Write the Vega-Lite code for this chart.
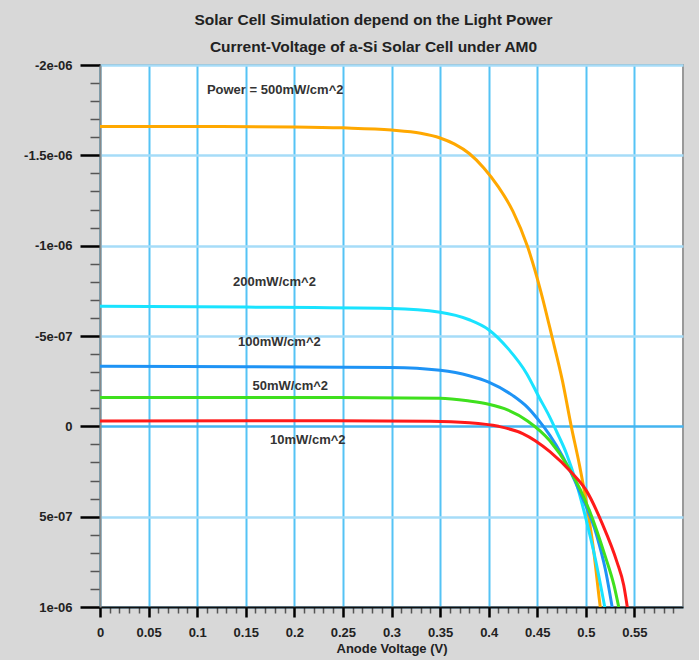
{
  "$schema": "https://vega.github.io/schema/vega-lite/v6.json",
  "width": 583,
  "height": 542,
  "autosize": {"type": "none"},
  "padding": {"left": 100, "top": 65, "right": 16, "bottom": 53},
  "background": "#d8d8d8",
  "title": {
    "text": ["Solar Cell Simulation depend on the Light Power", "Current-Voltage of a-Si Solar Cell under AM0"],
    "font": "Liberation Sans",
    "fontSize": 15.5,
    "fontWeight": "bold",
    "color": "#222222",
    "lineHeight": 27,
    "anchor": "middle",
    "frame": "group",
    "dx": -18,
    "offset": 4
  },
  "config": {
    "view": {"fill": "white", "stroke": "#999999", "strokeWidth": 2},
    "axis": {
      "labelFont": "Liberation Sans",
      "labelFontWeight": "bold",
      "labelFontSize": 13,
      "labelColor": "#222222",
      "titleFont": "Liberation Sans",
      "titleFontWeight": "bold",
      "titleFontSize": 13,
      "titleColor": "#222222",
      "labelOverlap": false,
      "labelBound": false,
      "labelFlush": false,
      "tickCount": 200
    }
  },
  "datasets": {
    "curves": [
      {"series": "500", "V": 0, "I": -1.66e-6},
      {"series": "500", "V": 0.1, "I": -1.66e-6},
      {"series": "500", "V": 0.2, "I": -1.657e-6},
      {"series": "500", "V": 0.25, "I": -1.652e-6},
      {"series": "500", "V": 0.3, "I": -1.64e-6},
      {"series": "500", "V": 0.33, "I": -1.622e-6},
      {"series": "500", "V": 0.35, "I": -1.596e-6},
      {"series": "500", "V": 0.365, "I": -1.562e-6},
      {"series": "500", "V": 0.38, "I": -1.51e-6},
      {"series": "500", "V": 0.395, "I": -1.43e-6},
      {"series": "500", "V": 0.41, "I": -1.325e-6},
      {"series": "500", "V": 0.425, "I": -1.19e-6},
      {"series": "500", "V": 0.44, "I": -0.995e-6},
      {"series": "500", "V": 0.453, "I": -0.76e-6},
      {"series": "500", "V": 0.465, "I": -0.5e-6},
      {"series": "500", "V": 0.476, "I": -0.25e-6},
      {"series": "500", "V": 0.485, "I": 0},
      {"series": "500", "V": 0.4935, "I": 0.216e-6},
      {"series": "500", "V": 0.501, "I": 0.437e-6},
      {"series": "500", "V": 0.508, "I": 0.686e-6},
      {"series": "500", "V": 0.514, "I": 0.963e-6},
      {"series": "500", "V": 0.5155, "I": 1.03e-6},
      {"series": "200", "V": 0, "I": -0.664e-6},
      {"series": "200", "V": 0.15, "I": -0.66e-6},
      {"series": "200", "V": 0.3, "I": -0.652e-6},
      {"series": "200", "V": 0.35, "I": -0.632e-6},
      {"series": "200", "V": 0.38, "I": -0.59e-6},
      {"series": "200", "V": 0.4, "I": -0.535e-6},
      {"series": "200", "V": 0.42, "I": -0.43e-6},
      {"series": "200", "V": 0.439, "I": -0.293e-6},
      {"series": "200", "V": 0.452, "I": -0.16e-6},
      {"series": "200", "V": 0.463, "I": -0.05e-6},
      {"series": "200", "V": 0.47, "I": 0.03e-6},
      {"series": "200", "V": 0.48, "I": 0.15e-6},
      {"series": "200", "V": 0.49, "I": 0.31e-6},
      {"series": "200", "V": 0.5, "I": 0.51e-6},
      {"series": "200", "V": 0.51, "I": 0.74e-6},
      {"series": "200", "V": 0.5205, "I": 1.03e-6},
      {"series": "100", "V": 0, "I": -0.332e-6},
      {"series": "100", "V": 0.15, "I": -0.33e-6},
      {"series": "100", "V": 0.3, "I": -0.326e-6},
      {"series": "100", "V": 0.35, "I": -0.31e-6},
      {"series": "100", "V": 0.38, "I": -0.28e-6},
      {"series": "100", "V": 0.4, "I": -0.245e-6},
      {"series": "100", "V": 0.425, "I": -0.17e-6},
      {"series": "100", "V": 0.44, "I": -0.105e-6},
      {"series": "100", "V": 0.452, "I": -0.03e-6},
      {"series": "100", "V": 0.463, "I": 0.05e-6},
      {"series": "100", "V": 0.476, "I": 0.165e-6},
      {"series": "100", "V": 0.493, "I": 0.354e-6},
      {"series": "100", "V": 0.511, "I": 0.6e-6},
      {"series": "100", "V": 0.52, "I": 0.79e-6},
      {"series": "100", "V": 0.528, "I": 1.03e-6},
      {"series": "50", "V": 0, "I": -0.16e-6},
      {"series": "50", "V": 0.2, "I": -0.16e-6},
      {"series": "50", "V": 0.35, "I": -0.156e-6},
      {"series": "50", "V": 0.38, "I": -0.14e-6},
      {"series": "50", "V": 0.4, "I": -0.122e-6},
      {"series": "50", "V": 0.42, "I": -0.09e-6},
      {"series": "50", "V": 0.44, "I": -0.03e-6},
      {"series": "50", "V": 0.463, "I": 0.08e-6},
      {"series": "50", "V": 0.483, "I": 0.235e-6},
      {"series": "50", "V": 0.504, "I": 0.47e-6},
      {"series": "50", "V": 0.52, "I": 0.72e-6},
      {"series": "50", "V": 0.529, "I": 0.88e-6},
      {"series": "50", "V": 0.535, "I": 1.03e-6},
      {"series": "10", "V": 0, "I": -0.03e-6},
      {"series": "10", "V": 0.2, "I": -0.031e-6},
      {"series": "10", "V": 0.34, "I": -0.028e-6},
      {"series": "10", "V": 0.38, "I": -0.02e-6},
      {"series": "10", "V": 0.41, "I": 0.0e-6},
      {"series": "10", "V": 0.435, "I": 0.04e-6},
      {"series": "10", "V": 0.463, "I": 0.14e-6},
      {"series": "10", "V": 0.486, "I": 0.26e-6},
      {"series": "10", "V": 0.501, "I": 0.36e-6},
      {"series": "10", "V": 0.517, "I": 0.54e-6},
      {"series": "10", "V": 0.532, "I": 0.75e-6},
      {"series": "10", "V": 0.539, "I": 0.88e-6},
      {"series": "10", "V": 0.5435, "I": 1.03e-6}
    ],
    "labels": [
      {"V": 0.11, "I": -1.86e-6, "text": "Power = 500mW/cm^2"},
      {"V": 0.137, "I": -0.797e-6, "text": "200mW/cm^2"},
      {"V": 0.142, "I": -0.465e-6, "text": "100mW/cm^2"},
      {"V": 0.157, "I": -0.221e-6, "text": "50mW/cm^2"},
      {"V": 0.175, "I": 0.077e-6, "text": "10mW/cm^2"}
    ]
  },
  "layer": [
    {
      "data": {"name": "curves"},
      "mark": {"type": "line", "strokeWidth": 3, "clip": true, "interpolate": "monotone"},
      "encoding": {
        "x": {
          "field": "V",
          "type": "quantitative",
          "scale": {"domain": [0, 0.6], "nice": false, "zero": false},
          "axis": {
            "title": "Anode Voltage (V)",
            "titlePadding": 3,
            "tickCount": 200,
            "values": [0, 0.01, 0.02, 0.03, 0.04, 0.05, 0.06, 0.07, 0.08, 0.09, 0.1, 0.11, 0.12, 0.13, 0.14, 0.15, 0.16, 0.17, 0.18, 0.19, 0.2, 0.21, 0.22, 0.23, 0.24, 0.25, 0.26, 0.27, 0.28, 0.29, 0.3, 0.31, 0.32, 0.33, 0.34, 0.35, 0.36, 0.37, 0.38, 0.39, 0.4, 0.41, 0.42, 0.43, 0.44, 0.45, 0.46, 0.47, 0.48, 0.49, 0.5, 0.51, 0.52, 0.53, 0.54, 0.55, 0.56, 0.57, 0.58, 0.59],
            "format": ".2~f",
            "labelExpr": "round(datum.value*100) % 5 == 0 ? datum.label : ''",
            "labelPadding": 9,
            "domainColor": "#111111",
            "domainWidth": 2,
            "tickColor": {"condition": {"test": "round(datum.value*100) % 5 == 0", "value": "#000000"}, "value": "#555555"},
            "tickWidth": {"condition": {"test": "round(datum.value*100) % 5 == 0", "value": 2.5}, "value": 1.5},
            "tickSize": {"condition": {"test": "round(datum.value*100) % 5 == 0", "value": 10}, "value": 6},
            "grid": true,
            "gridColor": "#55c3f5",
            "gridWidth": 2,
            "gridOpacity": {"condition": {"test": "round(datum.value*100) % 5 == 0", "value": 1}, "value": 0}
          }
        },
        "y": {
          "field": "I",
          "type": "quantitative",
          "scale": {"domain": [-2e-6, 1e-6], "nice": false, "zero": false, "reverse": true},
          "axis": {
            "title": null,
            "tickCount": 200,
            "values": [-2e-6, -1.9e-6, -1.8e-6, -1.7e-6, -1.6e-6, -1.5e-6, -1.4e-6, -1.3e-6, -1.2e-6, -1.1e-6, -1e-6, -9e-7, -8e-7, -7e-7, -6e-7, -5e-7, -4e-7, -3e-7, -2e-7, -1e-7, 0, 1e-7, 2e-7, 3e-7, 4e-7, 5e-7, 6e-7, 7e-7, 8e-7, 9e-7, 1e-6],
            "labelExpr": "round(datum.value*1e7) == -20 ? '-2e-06' : round(datum.value*1e7) == -15 ? '-1.5e-06' : round(datum.value*1e7) == -10 ? '-1e-06' : round(datum.value*1e7) == -5 ? '-5e-07' : round(datum.value*1e7) == 0 ? '0' : round(datum.value*1e7) == 5 ? '5e-07' : round(datum.value*1e7) == 10 ? '1e-06' : ''",
            "labelPadding": 8,
            "domainColor": "#888888",
            "domainWidth": 2,
            "tickColor": {"condition": {"test": "round(datum.value*1e7) % 5 == 0", "value": "#000000"}, "value": "#555555"},
            "tickWidth": {"condition": {"test": "round(datum.value*1e7) % 5 == 0", "value": 2.5}, "value": 1.5},
            "tickSize": {"condition": {"test": "round(datum.value*1e7) % 5 == 0", "value": 20}, "value": 10},
            "grid": true,
            "gridColor": {"condition": {"test": "round(datum.value*1e7) == 0", "value": "#44b4f0"}, "value": "#a6dcf8"},
            "gridWidth": 2.5,
            "gridOpacity": {"condition": {"test": "round(datum.value*1e7) % 5 == 0", "value": 1}, "value": 0}
          }
        },
        "color": {
          "field": "series",
          "type": "nominal",
          "scale": {"domain": ["500", "200", "100", "50", "10"], "range": ["#ffa800", "#19e3ff", "#1e93f5", "#3fe01e", "#ff1a1a"]},
          "legend": null
        },
        "order": {"field": "V", "type": "quantitative"}
      }
    },
    {
      "data": {"name": "labels"},
      "mark": {"type": "text", "align": "left", "baseline": "middle", "font": "Liberation Sans", "fontWeight": "bold", "fontSize": 13, "color": "#333333"},
      "encoding": {
        "x": {"field": "V", "type": "quantitative"},
        "y": {"field": "I", "type": "quantitative"},
        "text": {"field": "text", "type": "nominal"}
      }
    }
  ]
}
